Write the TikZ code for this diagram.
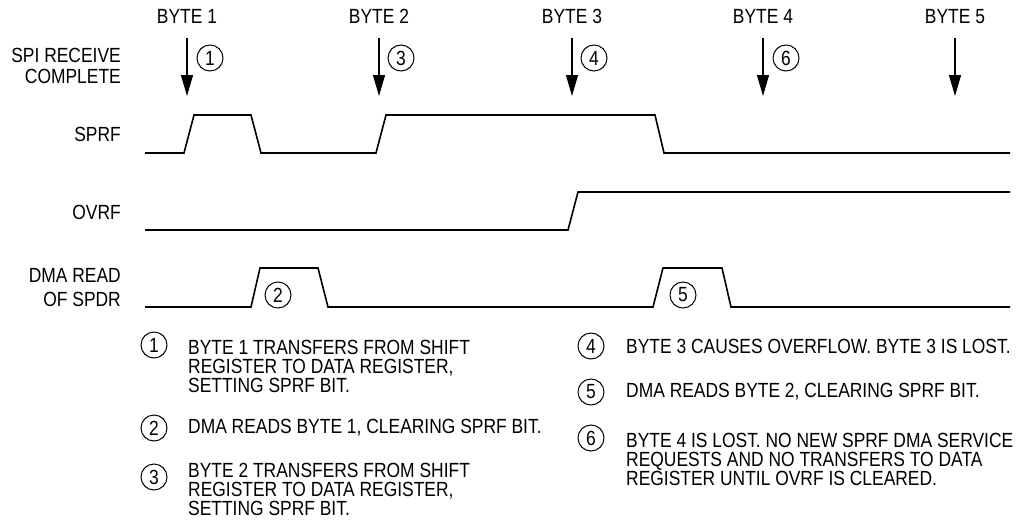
\documentclass[tikz,border=0pt]{standalone}
\usepackage{fontspec}
\setmainfont{Liberation Sans}[FakeStretch=0.85]
\usetikzlibrary{arrows.meta, positioning, shapes.geometric}

\tikzset{
  sig/.style={line width=1.6pt, line join=miter},
  lbl/.style={anchor=east, align=right, inner sep=0pt},
  bytelbl/.style={inner sep=0pt},
  num/.style={draw, circle, line width=1pt, minimum size=26pt, inner sep=0pt},
  note/.style={anchor=west, align=left, inner sep=0pt},
  evt/.style={-{Triangle[length=21pt,width=12pt]}, line width=1.2pt},
}

\begin{document}
\begin{tikzpicture}[x=1pt, y=-1pt, font=\fontsize{20.5}{19}\selectfont]
  \useasboundingbox (0,0) rectangle (1032,527);

  % byte events
  \foreach \i/\x in {1/187,2/379,3/572,4/763,5/955}{
    \coordinate (top\i) at (\x,38);
    \coordinate (tip\i) at (\x,96);
    \node[bytelbl, above=14pt of top\i] (byte\i) {BYTE \i};
    \draw[evt] (top\i) -- (tip\i);
  }
  \node[num] (t1) at (210,58) {1};
  \node[num] (t3) at (401,58) {3};
  \node[num] (t4) at (594,58) {4};
  \node[num] (t6) at (786,58) {6};

  % signal names
  \node[lbl, font=\fontsize{20.5}{21}\selectfont] (spi) at (121,66) {SPI RECEIVE\\COMPLETE};
  \node[lbl] (sprf) at (121,134) {SPRF};
  \node[lbl] (ovrf) at (121,212) {OVRF};
  \node[lbl, font=\fontsize{20.5}{24}\selectfont] (dma) at (121,288) {DMA READ\\OF SPDR};

  % waveforms
  \draw[sig] (145,153) -- (184,153) -- (194,115) -- (251,115) -- (261,153)
    -- (376,153) -- (386,115) -- (655,115) -- (664,153) -- (1010,153);
  \draw[sig] (145,230) -- (568,230) -- (578,192) -- (1010,192);
  \draw[sig] (145,307) -- (251,307) -- (260,268) -- (318,268) -- (328,307)
    -- (653,307) -- (663,268) -- (722,268) -- (731,307) -- (1010,307);
  \node[num] (d2) at (278,295) {2};
  \node[num] (d5) at (683,295) {5};

  % notes
  \node[num] (n1) at (154,345) {1};
  \node[note] (txt1) at (188,366) {BYTE 1 TRANSFERS FROM SHIFT\\REGISTER TO DATA REGISTER,\\SETTING SPRF BIT.};
  \node[num] (n2) at (154,428) {2};
  \node[note] (txt2) at (188,428) {DMA READS BYTE 1, CLEARING SPRF BIT.};
  \node[num] (n3) at (154,477) {3};
  \node[note] (txt3) at (188,489) {BYTE 2 TRANSFERS FROM SHIFT\\REGISTER TO DATA REGISTER,\\SETTING SPRF BIT.};

  \node[num] (n4) at (591,346) {4};
  \node[note] (txt4) at (626,346) {BYTE 3 CAUSES OVERFLOW. BYTE 3 IS LOST.};
  \node[num] (n5) at (591,392) {5};
  \node[note] (txt5) at (626,392) {DMA READS BYTE 2, CLEARING SPRF BIT.};
  \node[num] (n6) at (591,438) {6};
  \node[note] (txt6) at (626,459) {BYTE 4 IS LOST. NO NEW SPRF DMA SERVICE\\REQUESTS AND NO TRANSFERS TO DATA\\REGISTER UNTIL OVRF IS CLEARED.};
\end{tikzpicture}
\end{document}
